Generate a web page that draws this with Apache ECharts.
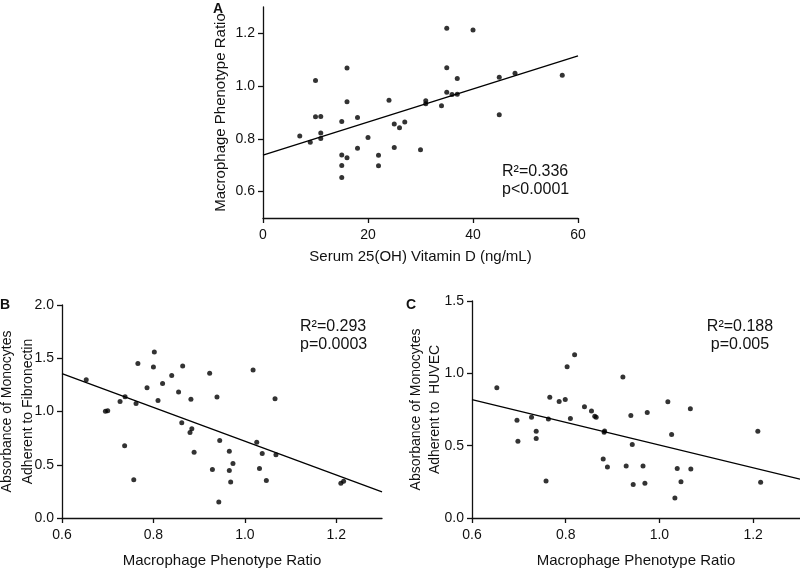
<!DOCTYPE html>
<html>
<head>
<meta charset="utf-8">
<script src="https://cdn.jsdelivr.net/npm/echarts@6/dist/echarts.min.js"></script>
<style>html,body{margin:0;padding:0;background:#fff}#c{width:800px;height:569px}</style>
</head>
<body>
<div id="c"></div>
<script>
// Panel A: Serum 25(OH) Vitamin D vs Macrophage Phenotype Ratio
const aX = [7, 9, 10, 10, 11, 11, 11, 15, 15, 15, 15, 16, 16, 16, 18, 18, 20, 22, 22, 24, 25, 25, 26, 27, 30, 31, 31, 34, 35, 35, 35, 36, 37, 37, 40, 45, 45, 48, 57];
const aY = [0.811, 0.787, 1.021, 0.884, 0.885, 0.822, 0.801, 0.866, 0.739, 0.699, 0.654, 1.069, 0.941, 0.728, 0.881, 0.764, 0.805, 0.738, 0.698, 0.946, 0.856, 0.767, 0.842, 0.864, 0.759, 0.945, 0.933, 0.926, 1.219, 1.070, 0.977, 0.968, 0.969, 1.029, 1.213, 1.034, 0.891, 1.049, 1.041];
const aLine = [[0, 0.738], [60, 1.115]];
const aXTicks = [0, 20, 40, 60];
const aYTicks = [0.6, 0.8, 1.0, 1.2];

// Panel B: Macrophage Phenotype Ratio vs adherence to fibronectin
const bX = [0.653, 0.695, 0.700, 0.727, 0.738, 0.737, 0.757, 0.762, 0.766, 0.786, 0.800, 0.802, 0.810, 0.820, 0.840, 0.855, 0.864, 0.862, 0.882, 0.880, 0.884, 0.889, 0.923, 0.939, 0.945, 0.929, 0.943, 0.966, 0.974, 0.966, 0.969, 1.018, 1.026, 1.038, 1.032, 1.047, 1.066, 1.068, 1.210, 1.216];
const bY = [1.299, 1.003, 1.008, 1.095, 1.139, 0.678, 0.358, 1.076, 1.450, 1.224, 1.418, 1.559, 1.104, 1.264, 1.337, 1.183, 1.428, 0.894, 1.114, 0.803, 0.838, 0.618, 1.359, 1.136, 0.728, 0.455, 0.150, 0.627, 0.511, 0.445, 0.339, 1.390, 0.712, 0.605, 0.464, 0.351, 1.120, 0.593, 0.326, 0.345];
const bLine = [[0.6, 1.356], [1.3, 0.245]];
const bXTicks = [0.6, 0.8, 1.0, 1.2];
const bYTicks = [0.0, 0.5, 1.0, 1.5, 2.0];

// Panel C: Macrophage Phenotype Ratio vs adherence to HUVEC
const cX = [0.653, 0.696, 0.698, 0.727, 0.737, 0.737, 0.758, 0.763, 0.766, 0.786, 0.799, 0.803, 0.819, 0.810, 0.840, 0.855, 0.862, 0.865, 0.922, 0.939, 0.974, 0.882, 0.883, 0.942, 0.880, 0.889, 0.929, 0.965, 0.944, 0.969, 1.018, 1.026, 1.038, 1.033, 1.046, 1.066, 1.067, 1.210, 1.216];
const cY = [0.900, 0.675, 0.531, 0.696, 0.600, 0.549, 0.256, 0.684, 0.835, 0.806, 0.819, 1.046, 1.128, 0.687, 0.769, 0.739, 0.703, 0.697, 0.975, 0.709, 0.730, 0.592, 0.601, 0.508, 0.407, 0.352, 0.359, 0.359, 0.231, 0.240, 0.803, 0.577, 0.343, 0.139, 0.251, 0.755, 0.339, 0.600, 0.247];
const cLine = [[0.6, 0.819], [1.3, 0.268]];
const cXTicks = [0.6, 0.8, 1.0, 1.2];
const cYTicks = [0.0, 0.5, 1.0, 1.5];

const pair = (xs, ys) => xs.map((x, i) => [x, ys[i]]);
const FONT = '"Liberation Sans", Arial, Helvetica, sans-serif';
const INK = '#111';

function xAxis(gi, min, max, ticks, name, gap, dec) {
  return {
    gridIndex: gi, type: 'value', min: min, max: max,
    name: name, nameLocation: 'middle', nameGap: gap, nameMoveOverlap: false,
    nameTextStyle: { fontFamily: FONT, fontSize: 15, color: INK },
    axisLine: { show: true, onZero: false, lineStyle: { color: INK, width: 1.3 } },
    axisTick: { show: true, length: 5, customValues: ticks, lineStyle: { color: INK, width: 1.3 } },
    axisLabel: { customValues: ticks, margin: 10, fontFamily: FONT, fontSize: 14, color: INK,
      formatter: v => v.toFixed(dec) },
    splitLine: { show: false }
  };
}
function yAxis(gi, min, max, ticks, name, gap, fs, lh) {
  return {
    gridIndex: gi, type: 'value', min: min, max: max,
    name: name, nameLocation: 'middle', nameGap: gap, nameMoveOverlap: false,
    nameTextStyle: { fontFamily: FONT, fontSize: fs, color: INK, lineHeight: lh },
    axisLine: { show: true, onZero: false, lineStyle: { color: INK, width: 1.3 } },
    axisTick: { show: true, length: 5, customValues: ticks, lineStyle: { color: INK, width: 1.3 } },
    axisLabel: { customValues: ticks, margin: 8, fontFamily: FONT, fontSize: 14, color: INK,
      formatter: v => v.toFixed(1) },
    splitLine: { show: false }
  };
}
function scatter(gi, data) {
  return { type: 'scatter', xAxisIndex: gi, yAxisIndex: gi, data: data, symbolSize: 5,
    itemStyle: { color: '#000' }, silent: true };
}
function fit(gi, data) {
  return { type: 'line', xAxisIndex: gi, yAxisIndex: gi, data: data, symbol: 'none',
    lineStyle: { color: '#000', width: 1.3 }, silent: true };
}
function txt(x, y, text, opts) {
  return Object.assign({ type: 'text', x: x, y: y,
    style: Object.assign({ text: text, fontFamily: FONT, fontSize: 16, fill: INK, lineHeight: 18 }, opts || {}) });
}

const chart = echarts.init(document.getElementById('c'), null, { renderer: 'canvas' });
chart.setOption({
  animation: false,
  backgroundColor: '#fff',
  grid: [
    { left: 263, top: 7, width: 315, height: 211, outerBoundsMode: 'none' },
    { left: 62, top: 305, width: 320, height: 213, outerBoundsMode: 'none' },
    { left: 472, top: 301, width: 328, height: 217, outerBoundsMode: 'none' }
  ],
  xAxis: [
    xAxis(0, 0, 60, aXTicks, 'Serum 25(OH) Vitamin D (ng/mL)', 31, 0),
    xAxis(1, 0.6, 1.3, bXTicks, 'Macrophage Phenotype Ratio', 35, 1),
    xAxis(2, 0.6, 1.3, cXTicks, 'Macrophage Phenotype Ratio', 35, 1)
  ],
  yAxis: [
    yAxis(0, 0.5, 1.3, aYTicks, 'Macrophage Phenotype Ratio', 33, 15, 18),
    yAxis(1, 0, 2.0, bYTicks, 'Absorbance of Monocytes\nAdherent to Fibronectin', 23, 14, 21),
    yAxis(2, 0, 1.5, cYTicks, 'Absorbance of Monocytes\nAdherent to  HUVEC', 27, 14, 19)
  ],
  series: [
    fit(0, aLine), scatter(0, pair(aX, aY)),
    fit(1, bLine), scatter(1, pair(bX, bY)),
    fit(2, cLine), scatter(2, pair(cX, cY))
  ],
  graphic: [
    txt(213, 0, 'A', { fontWeight: 'bold', fontSize: 14 }),
    txt(0, 296, 'B', { fontWeight: 'bold', fontSize: 14 }),
    txt(406, 296, 'C', { fontWeight: 'bold', fontSize: 14 }),
    txt(502, 163, 'R²=0.336\np<0.0001'),
    txt(300, 318, 'R²=0.293\np=0.0003'),
    txt(740, 318, 'R²=0.188\np=0.005', { align: 'center' })
  ]
});
</script>
</body>
</html>
